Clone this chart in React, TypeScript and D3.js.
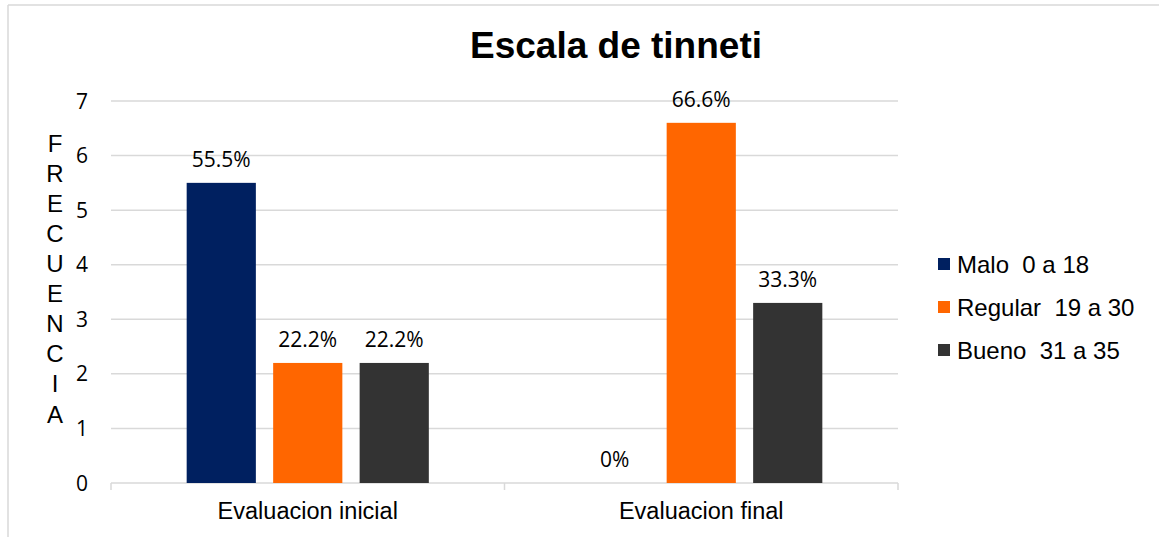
import React from "react";
import * as d3 from "d3";

const categories = ["Evaluacion inicial", "Evaluacion final"];
const seriesNames = ["Malo  0 a 18", "Regular  19 a 30", "Bueno  31 a 35"];
const seriesColors = ["#002060", "#FF6600", "#333333"];
const malo = [5.5, 0];
const regular = [2.2, 6.6];
const bueno = [2.2, 3.3];
const maloLabels = ["55.5%", "0%"];
const regularLabels = ["22.2%", "66.6%"];
const buenoLabels = ["22.2%", "33.3%"];
const yTicks = [0, 1, 2, 3, 4, 5, 6, 7];
const title = "Escala de tinneti";
const yTitle = "FRECUENCIA";

const W = 1159;
const H = 537;

export default function App() {
  const seriesValues = [malo, regular, bueno];
  const seriesLabels = [maloLabels, regularLabels, buenoLabels];
  const x0 = d3.scaleBand<string>().domain(categories).range([111, 898]).paddingInner(0).paddingOuter(0);
  const x1 = d3
    .scaleBand<string>()
    .domain(seriesNames)
    .range([0, x0.bandwidth()])
    .paddingInner(0.2)
    .paddingOuter(0.875);
  const y = d3.scaleLinear().domain([0, 7]).range([483, 101]);
  const grid = "#d9d9d9";
  const letters = yTitle.split("");

  return (
    <svg
      width={W}
      height={H}
      style={{ position: "absolute", left: 0, top: 0, background: "#fff" }}
    >
      <rect x={0} y={0} width={W} height={H} fill="#fff" />
      {/* outer chart border (top and left visible) */}
      <line x1={8} y1={5} x2={W} y2={5} stroke={grid} strokeWidth={1.5} />
      <line x1={8} y1={5} x2={8} y2={H} stroke={grid} strokeWidth={1.5} />

      <text
        x={616}
        y={58}
        textAnchor="middle"
        fontFamily="Liberation Sans, Arial, sans-serif"
        fontWeight="bold"
        fontSize={37}
        fill="#000"
      >
        {title}
      </text>

      {/* gridlines */}
      {yTicks.map((t) => (
        <line
          key={"g" + t}
          x1={111}
          x2={898}
          y1={y(t)}
          y2={y(t)}
          stroke={grid}
          strokeWidth={1.5}
        />
      ))}
      {/* category ticks */}
      {[...categories.map((c) => x0(c) as number), 898].map((xx, i) => (
        <line key={"t" + i} x1={xx} x2={xx} y1={y(0)} y2={y(0) + 7} stroke={grid} strokeWidth={1.5} />
      ))}

      {/* y tick labels */}
      {yTicks.map((t) => (
        <text
          key={"yl" + t}
          x={88}
          y={y(t)}
          dy="0.36em"
          textAnchor="end"
          fontFamily="Open Sans, sans-serif"
          fontSize={21}
          fill="#000"
        >
          {t}
        </text>
      ))}

      {/* y axis title, stacked letters */}
      {letters.map((ch, i) => (
        <text
          key={"l" + i}
          x={55}
          y={143 + i * 30.1}
          dy="0.36em"
          textAnchor="middle"
          fontFamily="Liberation Sans, Arial, sans-serif"
          fontSize={24}
          fill="#000"
        >
          {ch}
        </text>
      ))}

      {/* bars */}
      {categories.map((c, ci) => (
        <g key={c} transform={`translate(${x0(c)},0)`}>
          {seriesNames.map((s, si) => {
            const v = seriesValues[si][ci];
            const bx = x1(s) as number;
            return (
              <g key={s}>
                {v > 0 && (
                  <rect
                    x={bx}
                    y={y(v)}
                    width={x1.bandwidth()}
                    height={y(0) - y(v)}
                    fill={seriesColors[si]}
                  />
                )}
                <text
                  x={bx + x1.bandwidth() / 2}
                  y={y(v) - 16}
                  textAnchor="middle"
                  fontFamily="Open Sans, sans-serif"
                  fontSize={21}
                  fill="#000"
                >
                  {seriesLabels[si][ci]}
                </text>
              </g>
            );
          })}
        </g>
      ))}

      {/* category labels */}
      {categories.map((c) => (
        <text
          key={"c" + c}
          x={(x0(c) as number) + x0.bandwidth() / 2}
          y={519}
          textAnchor="middle"
          fontFamily="Liberation Sans, Arial, sans-serif"
          fontSize={23.5}
          fill="#000"
        >
          {c}
        </text>
      ))}

      {/* legend */}
      {seriesNames.map((s, i) => (
        <g key={"lg" + s} transform={`translate(938, ${264 + i * 43})`}>
          <rect x={0} y={-6} width={12} height={12} fill={seriesColors[i]} />
          <text
            x={19}
            y={0}
            dy="0.36em"
            fontFamily="Liberation Sans, Arial, sans-serif"
            fontSize={24}
            fill="#000"
            style={{ whiteSpace: "pre" }}
          >
            {s}
          </text>
        </g>
      ))}
    </svg>
  );
}
